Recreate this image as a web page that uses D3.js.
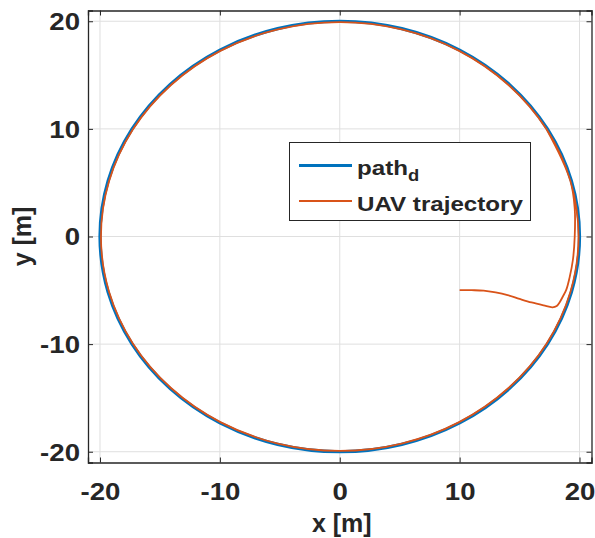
<!DOCTYPE html>
<html>
<head>
<meta charset="utf-8">
<script src="https://cdn.jsdelivr.net/npm/d3@7"></script>
<style>
  body { margin: 0; background: #fff; }
  text { font-family: "Liberation Sans", Arial, sans-serif; font-weight: bold; fill: #262626; }
</style>
</head>
<body>
<svg id="chart" width="595" height="538"></svg>
<script>
// desired circular path, sampled every 15 degrees
const pathX = [20, 19.32, 17.32, 14.14, 10, 5.18, 0, -5.18, -10, -14.14, -17.32, -19.32,
  -20, -19.32, -17.32, -14.14, -10, -5.18, 0, 5.18, 10, 14.14, 17.32, 19.32];
const pathY = [0, 5.18, 10, 14.14, 17.32, 19.32, 20, 19.32, 17.32, 14.14, 10, 5.18,
  0, -5.18, -10, -14.14, -17.32, -19.32, -20, -19.32, -17.32, -14.14, -10, -5.18];

// UAV trajectory: approach from (10,-5), then loops round the path
const trajX = [10, 11, 12, 13, 14, 15, 16, 17, 17.75, 18.1, 18.35, 18.6, 18.9, 19.17, 19.45, 19.6, 19.6, 19.24,
  17.25, 14.08, 9.96, 5.16, 0, -5.16, -9.96, -14.08, -17.25, -19.24, -19.92, -19.24, -17.25, -14.08,
  -9.96, -5.16, 0, 5.16, 9.96, 14.08, 17.25, 19.24, 19.92, 19.24, 17.25];
const trajY = [-4.98, -4.99, -5.03, -5.2, -5.45, -5.8, -6.13, -6.4, -6.58, -6.45, -6.1, -5.6, -4.94, -3.82, -2.16, 0, 2.6, 5.16,
  9.96, 14.08, 17.25, 19.24, 19.92, 19.24, 17.25, 14.08, 9.96, 5.16, 0, -5.16, -9.96, -14.08,
  -17.25, -19.24, -19.92, -19.24, -17.25, -14.08, -9.96, -5.16, 0, 5.16, 9.96];

const xTicks = [-20, -10, 0, 10, 20];
const yTicks = [-20, -10, 0, 10, 20];
const seriesNames = ['path', 'UAV trajectory'];

const svg = d3.select('#chart');
const plotL = 88, plotR = 591.5, plotT = 10.5, plotB = 462.5;
const sx = 1.2; // the figure is stretched horizontally

const x = d3.scaleLinear().domain([-21, 21]).range([plotL, plotR]);
const y = d3.scaleLinear().domain([-21, 21]).range([plotB, plotT]);

// grid
const grid = svg.append('g').attr('stroke', '#dfdfdf').attr('stroke-width', 1);
grid.selectAll('.gx').data(xTicks).enter().append('line')
  .attr('x1', d => x(d)).attr('x2', d => x(d)).attr('y1', plotT).attr('y2', plotB);
grid.selectAll('.gy').data(yTicks).enter().append('line')
  .attr('y1', d => y(d)).attr('y2', d => y(d)).attr('x1', plotL).attr('x2', plotR);

// lines
svg.append('path')
  .datum(pathX.map((v, i) => [v, pathY[i]]))
  .attr('fill', 'none')
  .attr('stroke', '#0072BD')
  .attr('stroke-width', 3.2)
  .attr('d', d3.line().x(d => x(d[0])).y(d => y(d[1])).curve(d3.curveCatmullRomClosed.alpha(0.5)));

svg.append('path')
  .datum(trajX.map((v, i) => [v, trajY[i]]))
  .attr('fill', 'none')
  .attr('stroke', '#D95319')
  .attr('stroke-width', 1.8)
  .attr('d', d3.line().x(d => x(d[0])).y(d => y(d[1])).curve(d3.curveCatmullRom.alpha(0.5)));

// axes, ticks inward on all four sides
const tickLen = 5;
const fmt = d => String(d);
svg.append('g').attr('transform', 'translate(0,' + plotB + ')')
  .call(d3.axisBottom(x).tickValues(xTicks).tickSize(-tickLen).tickFormat(fmt))
  .call(g => g.selectAll('text')
    .attr('y', 0).attr('dy', 0)
    .attr('transform', 'translate(0,37) scale(' + sx + ',1)')
    .style('font-size', '23px'));
svg.append('g').attr('transform', 'translate(0,' + plotT + ')')
  .call(d3.axisTop(x).tickValues(xTicks).tickSize(-tickLen).tickFormat(''));
svg.append('g').attr('transform', 'translate(' + plotL + ',0)')
  .call(d3.axisLeft(y).tickValues(yTicks).tickSize(-tickLen).tickFormat(fmt))
  .call(g => g.selectAll('text')
    .attr('x', 0).attr('dy', '0.36em')
    .attr('transform', 'translate(-8,0) scale(' + sx + ',1)')
    .style('font-size', '23px'));
svg.append('g').attr('transform', 'translate(' + plotR + ',0)')
  .call(d3.axisRight(y).tickValues(yTicks).tickSize(-tickLen).tickFormat(''));
svg.selectAll('.domain').attr('stroke', '#262626').attr('stroke-width', 1.3);
svg.selectAll('.tick line').attr('stroke', '#262626');
svg.selectAll('.tick text').attr('fill', '#262626')
  .style('font-family', '"Liberation Sans", Arial, sans-serif').style('font-weight', 'bold');

// axis labels
svg.append('text').attr('transform', 'translate(' + ((plotL + plotR) / 2 + 2) + ',532)')
  .attr('text-anchor', 'middle').style('font-size', '25px').text('x [m]');
svg.append('text').attr('transform', 'translate(31,' + ((plotT + plotB) / 2) + ') rotate(-90)')
  .attr('text-anchor', 'middle').style('font-size', '25px').text('y [m]');

// legend
const legend = svg.append('g');
legend.append('rect').attr('x', 289.5).attr('y', 142.5).attr('width', 241).attr('height', 78)
  .attr('fill', '#fff').attr('stroke', '#262626').attr('stroke-width', 1);
const colors = ['#0072BD', '#D95319'];
const widths = [3.2, 1.8];
const rowY = [165.5, 201];
seriesNames.forEach((name, i) => {
  legend.append('line').attr('x1', 299).attr('x2', 352).attr('y1', rowY[i]).attr('y2', rowY[i])
    .attr('stroke', colors[i]).attr('stroke-width', widths[i]);
  const t = legend.append('text')
    .attr('transform', 'translate(357,' + (rowY[i] + 9.5) + ') scale(1.15,1)')
    .style('font-size', '21px').text(name);
  if (i === 0) t.append('tspan').attr('dy', 6).style('font-size', '16px').text('d');
});
</script>
</body>
</html>
